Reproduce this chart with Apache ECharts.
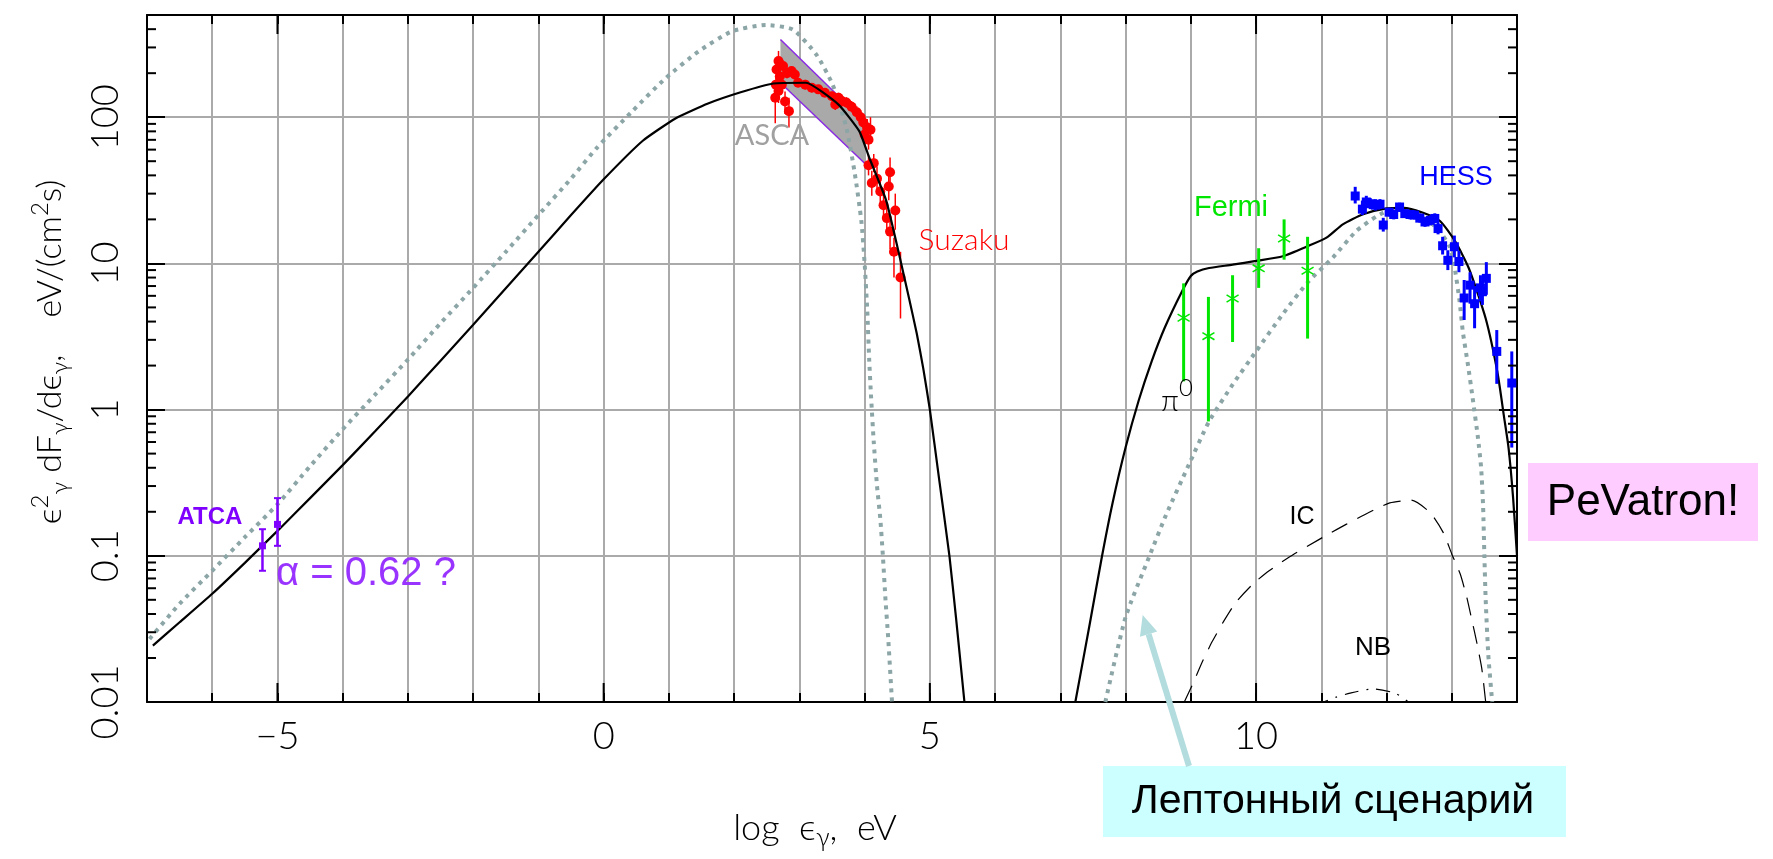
<!DOCTYPE html>
<html>
<head>
<meta charset="utf-8">
<script src="https://cdn.jsdelivr.net/npm/echarts@6/dist/echarts.min.js"></script>
<style>html,body{margin:0;padding:0;background:#fff}#c{width:1773px;height:859px}</style>
</head>
<body>
<div id="c"></div>
<script>
// ---------- axis ranges and tick labels ----------
const X_MIN = -7, X_MAX = 14, Y_MIN = 0.01, Y_MAX = 500;
const xTickLabels = [-5, 0, 5, 10];
const yTickLabels = [0.01, 0.1, 1, 10, 100];
const yMinorTicks = [0.02,0.03,0.04,0.05,0.06,0.07,0.08,0.09,0.2,0.3,0.4,0.5,0.6,0.7,0.8,0.9,
                     2,3,4,5,6,7,8,9,20,30,40,50,60,70,80,90,200,300,400];

// ---------- hadronic model (black solid) ----------
const hadronLowX = [-6.91,-6.5,-6,-5.5,-5,-4.5,-4,-3.5,-3,-2.5,-2,-1.5,-1,-0.5,0,0.6,1.1,1.6,2.1,2.6,3.1,3.6,3.92,4.07,4.33,4.52,4.68,4.8,4.9,5.0,5.14,5.3,5.4,5.53];
const hadronLowY = [0.0243,0.0351,0.055,0.0895,0.148,0.248,0.417,0.713,1.23,2.16,3.8,6.76,12.0,21.4,37.6,69,98,124,148,170,172,122,80,53,27,12,5.8,3.3,1.9,1.0,0.34,0.1,0.038,0.01];
const hadronHighX = [7.23,7.45,7.64,7.8,8.0,8.2,8.4,8.6,8.87,9.0,9.1,9.28,9.64,10.0,10.41,10.79,11.08,11.33,11.64,12.0,12.26,12.56,12.82,13.05,13.26,13.52,13.7,13.8,13.87,13.94,14.0];
const hadronHighY = [0.01,0.034,0.1,0.229,0.55,1.15,2.14,3.63,6.5,8.2,8.8,9.3,9.8,10.4,11.2,13.1,15,18.5,21.7,23.8,24,22.2,19.5,14.2,9.3,4.2,1.8,0.9,0.55,0.25,0.1];

// ---------- leptonic model (grey dotted) ----------
const leptonLowX = [-6.96,-6.5,-6,-5.5,-5,-4.5,-4,-3.5,-3,-2.5,-2,-1.5,-1,-0.5,-0.1,0.44,0.95,1.46,1.97,2.49,2.9,3.26,3.51,3.72,3.85,3.95,4.0,4.04,4.07,4.1,4.14,4.19,4.24,4.28,4.32,4.36,4.42];
const leptonLowY = [0.027,0.047,0.079,0.134,0.225,0.41,0.734,1.27,2.2,3.9,6.8,12,21.4,38,62,110,185,283,387,427,397,268,167,85,41,19.5,10,4.8,2.2,1.2,0.6,0.3,0.18,0.1,0.05,0.028,0.01];
const leptonHighX = [7.69,8.0,8.36,8.62,8.97,9.28,9.64,10.0,10.41,10.79,11.18,11.54,11.85,12.1,12.46,12.77,12.97,13.05,13.12,13.17,13.25,13.32,13.4,13.45,13.48,13.5,13.52,13.56,13.62];
const leptonHighY = [0.01,0.038,0.098,0.19,0.42,0.83,1.48,2.5,4.5,7.4,11,16.7,21,23.5,21.7,17.5,13,9,5.5,3.4,2.0,1.2,0.65,0.4,0.22,0.1,0.05,0.021,0.01];

// ---------- IC (dashed) and NB (dash-dot) ----------
const icX = [8.9,9.03,9.18,9.33,9.51,9.69,9.95,10.2,10.51,10.8,11.1,11.38,11.72,12.05,12.38,12.67,12.87,13.0,13.13,13.23,13.31,13.38,13.46,13.52];
const icY = [0.01,0.0133,0.019,0.026,0.036,0.048,0.064,0.079,0.098,0.117,0.14,0.164,0.197,0.23,0.24,0.197,0.144,0.103,0.075,0.052,0.036,0.026,0.017,0.01];
const nbX = [10.9,11.23,11.44,11.8,12.15,12.4];
const nbY = [0.0095,0.0108,0.0115,0.0123,0.0114,0.0095];

// ---------- ASCA band ----------
const ascaX = [2.71, 3.97, 4.02, 2.71];
const ascaY = [340, 96, 47.5, 172];

// ---------- Suzaku ----------
const suzakuX  = [2.68,2.65,2.75,2.70,2.81,2.88,2.93,2.64,2.73,2.63,2.84,2.78,2.68,2.98,3.09,3.19,3.29,3.39,3.50,3.60,3.55,3.65,3.72,3.80,3.88,3.94,3.98,4.04,4.09,4.00,4.06,4.06,4.14,4.11,4.19,4.24,4.39,4.37,4.29,4.34,4.47,4.39,4.45,4.55];
const suzakuY  = [242,212,224,190,200,207,196,167,167,136,110,128,151,172,167,159,155,147,139,136,122,129,126,118,108,100,92,85,82,76,70,47,48.5,35.5,38,31,42,33.6,25,20.4,23,16.5,12,8.0];
const suzakuLo = [207,190,205,170,185,192,182,150,152,91,85,105,125,160,155,148,145,138,130,125,112,118,116,108,98,90,80,75,70,66,60,40,42,29,32,25,33.6,27,20,16,17,12.5,8,4.2];
const suzakuHi = [284,240,245,210,218,222,210,186,183,167,136,150,175,185,180,170,166,157,149,147,132,140,137,129,119,111,105,97,100,88,80,55,56,43,46,38,53,42,31,26,30,21,15,12];

// ---------- Fermi ----------
const fermiX  = [8.89, 9.27, 9.64, 10.04, 10.43, 10.79];
const fermiY  = [4.25, 3.18, 5.75, 9.25, 14.8, 8.9];
const fermiLo = [1.56, 0.83, 2.9, 6.8, 10.6, 3.06];
const fermiHi = [7.3, 5.9, 8.3, 12.7, 20, 15.2];

// ---------- HESS ----------
const hessX  = [11.52,11.63,11.69,11.75,11.83,11.9,11.95,12.04,12.11,12.2,12.28,12.36,12.43,12.51,12.59,12.67,12.74,12.79,12.86,12.94,13.04,13.11,13.19,13.28,13.35,13.44,13.47,13.53,13.69,13.92];
const hessY  = [28.9,23.5,26.3,25.6,25,25.4,18.3,22.4,21.6,24.3,21.9,21.6,21.4,20.4,19.2,19.7,20.3,17.3,13.2,10.5,13,10.3,5.8,7.1,5.3,6.8,6.4,7.9,2.5,1.52];
const hessLo = [25.7,21.4,24,23.5,23,23.5,16.5,21,20,22.5,20.5,20,20,19,17.8,18.2,18.8,15.8,11.5,9,11,8.7,4.1,5.3,3.6,5.5,5.2,6.1,1.5,0.55];
const hessHi = [33.4,26.9,29,28,27.5,27.5,20.5,24,23.3,26,23.5,23,23,22,20.7,21.3,22,19,15.2,12.3,15.5,12.2,7.7,8.7,7.0,8.3,7.6,10.2,3.5,2.5];

// ---------- ATCA ----------
const atcaX  = [-5.23, -5.0];
const atcaY  = [0.117, 0.164];
const atcaLo = [0.079, 0.117];
const atcaHi = [0.152, 0.248];

// =====================================================
const pairs = (xs, ys) => xs.map((x, i) => [x, ys[i]]);
const rows = (xs, ys, lo, hi) => xs.map((x, i) => [x, ys[i], lo[i], hi[i]]);

const HERSHEY = 'Lato, "DejaVu Sans", sans-serif';
const ARIAL = '"Liberation Sans", Arial, sans-serif';

function lineSeries(name, xs, ys, style, z, smooth) {
  return { name, type: 'line', data: pairs(xs, ys), showSymbol: false, symbol: 'none',
           smooth: smooth || false, lineStyle: style, z, silent: true, clip: true };
}
const blackStyle = { color: '#000', width: 2.2 };
const dotStyle = { color: '#8ca5a6', width: 4, type: [4, 5.2], cap: 'butt' };

function errRender(kind, color) {
  return function (params, api) {
    const x = api.value(0);
    const c = api.coord([x, api.value(1)]);
    const a = api.coord([x, api.value(2)]);
    const b = api.coord([x, api.value(3)]);
    const ch = [];
    const bw = kind === 'suzaku' ? 1.5 : (kind === 'atca' ? 2.5 : 3);
    ch.push({ type: 'line', shape: { x1: a[0], y1: a[1], x2: b[0], y2: b[1] }, style: { stroke: color, lineWidth: bw } });
    if (kind === 'suzaku') {
      ch.push({ type: 'circle', shape: { cx: c[0], cy: c[1], r: 5 }, style: { fill: color } });
    } else if (kind === 'hess') {
      ch.push({ type: 'rect', shape: { x: c[0] - 4.5, y: c[1] - 4.5, width: 9, height: 9 }, style: { fill: color } });
    } else if (kind === 'fermi') {
      const s = 6;
      ch.push({ type: 'line', shape: { x1: c[0] - s, y1: c[1] - s * 0.6, x2: c[0] + s, y2: c[1] + s * 0.6 }, style: { stroke: color, lineWidth: 1.5 } });
      ch.push({ type: 'line', shape: { x1: c[0] - s, y1: c[1] + s * 0.6, x2: c[0] + s, y2: c[1] - s * 0.6 }, style: { stroke: color, lineWidth: 1.5 } });
    } else if (kind === 'atca') {
      ch.push({ type: 'line', shape: { x1: a[0] - 3.5, y1: a[1], x2: a[0] + 3.5, y2: a[1] }, style: { stroke: color, lineWidth: 2 } });
      ch.push({ type: 'line', shape: { x1: b[0] - 3.5, y1: b[1], x2: b[0] + 3.5, y2: b[1] }, style: { stroke: color, lineWidth: 2 } });
      ch.push({ type: 'rect', shape: { x: c[0] - 3.5, y: c[1] - 3.5, width: 7, height: 7 }, style: { fill: color } });
    }
    return { type: 'group', children: ch };
  };
}

function ascaRender(params, api) {
  const pts = ascaX.map((x, i) => api.coord([x, ascaY[i]]));
  return { type: 'group', children: [
    { type: 'polygon', shape: { points: pts }, style: { fill: '#a9a9a9' } },
    { type: 'polyline', shape: { points: [pts[0], pts[1]] }, style: { stroke: '#8a2be2', lineWidth: 1.5, fill: null } },
    { type: 'polyline', shape: { points: [pts[3], pts[2]] }, style: { stroke: '#8a2be2', lineWidth: 1.5, fill: null } }
  ] };
}

function yMinorRender(params, api) {
  const v = api.value(1);
  const l = api.coord([X_MIN, v]), r = api.coord([X_MAX, v]);
  return { type: 'group', children: [
    { type: 'line', shape: { x1: l[0], y1: l[1], x2: l[0] + 9, y2: l[1] }, style: { stroke: '#000', lineWidth: 2 } },
    { type: 'line', shape: { x1: r[0], y1: r[1], x2: r[0] - 9, y2: r[1] }, style: { stroke: '#000', lineWidth: 2 } }
  ] };
}
function xMajorRender(params, api) {
  const v = api.value(0);
  const b = api.coord([v, Y_MIN]), t = api.coord([v, Y_MAX]);
  return { type: 'group', children: [
    { type: 'line', shape: { x1: b[0], y1: b[1], x2: b[0], y2: b[1] - 19 }, style: { stroke: '#000', lineWidth: 2 } },
    { type: 'line', shape: { x1: t[0], y1: t[1], x2: t[0], y2: t[1] + 19 }, style: { stroke: '#000', lineWidth: 2 } }
  ] };
}

function txt(x, y, text, size, color, family, weight, extra) {
  return Object.assign({ type: 'text', x, y, z: 100,
    style: { text, fontSize: size, fontFamily: family, fontWeight: weight || 'normal', fill: color,
             align: 'center', verticalAlign: 'middle', textAlign: 'center', textVerticalAlign: 'middle' } }, extra || {});
}

const axisLineStyle = { color: '#000', width: 2 };
const gridLineStyle = { color: '#aaaaaa', width: 2 };
const tickLabelStyle = { fontSize: 38, fontFamily: HERSHEY, fontWeight: 300, color: '#000' };

const option = {
  animation: false,
  backgroundColor: '#ffffff',
  grid: { left: 147, right: 256, top: 15, bottom: 157, containLabel: false },
  xAxis: [
    { type: 'value', min: X_MIN, max: X_MAX, interval: 1, position: 'bottom',
      axisLine: { show: true, onZero: false, lineStyle: axisLineStyle },
      axisTick: { show: true, inside: true, length: 9, lineStyle: axisLineStyle },
      axisLabel: Object.assign({ show: true, margin: 16,
        formatter: v => { const r = Math.round(v); return xTickLabels.includes(r) ? (r < 0 ? '\u2212' + (-r) : String(r)) : ''; } }, tickLabelStyle),
      splitLine: { show: true, lineStyle: gridLineStyle } },
    { type: 'value', min: X_MIN, max: X_MAX, interval: 1, position: 'top',
      axisLine: { show: true, onZero: false, lineStyle: axisLineStyle },
      axisTick: { show: true, inside: true, length: 9, lineStyle: axisLineStyle },
      axisLabel: { show: false }, splitLine: { show: false } }
  ],
  yAxis: [
    { type: 'log', logBase: 10, min: Y_MIN, max: Y_MAX, position: 'left',
      axisLine: { show: true, onZero: false, lineStyle: axisLineStyle },
      axisTick: { show: true, inside: true, length: 18, lineStyle: axisLineStyle },
      axisLabel: Object.assign({ show: true, rotate: 90, margin: 22,
        formatter: v => { const t = yTickLabels.find(t => Math.abs(t - v) / t < 1e-6); return t === undefined ? '' : String(t); } }, tickLabelStyle),
      splitLine: { show: true, lineStyle: gridLineStyle } },
    { type: 'log', logBase: 10, min: Y_MIN, max: Y_MAX, position: 'right',
      axisLine: { show: true, onZero: false, lineStyle: axisLineStyle },
      axisTick: { show: true, inside: true, length: 18, lineStyle: axisLineStyle },
      axisLabel: { show: false }, splitLine: { show: false } }
  ],
  series: [
    { name: 'ASCA', type: 'custom', renderItem: ascaRender, data: [[ascaX[0], ascaY[0]]], z: 2, silent: true },
    lineSeries('Leptonic low', leptonLowX, leptonLowY, dotStyle, 3, 0.2),
    lineSeries('Leptonic high', leptonHighX, leptonHighY, dotStyle, 3, 0.2),
    lineSeries('IC', icX, icY, { color: '#000', width: 1.2, type: [18, 11] }, 3, 0.2),
    lineSeries('NB', nbX, nbY, { color: '#000', width: 1.2, type: [14, 8, 2, 8] }, 3, 0.2),
    { name: 'Suzaku', type: 'custom', renderItem: errRender('suzaku', '#ff0000'), data: rows(suzakuX, suzakuY, suzakuLo, suzakuHi), z: 4, silent: true },
    lineSeries('Hadronic low', hadronLowX, hadronLowY, blackStyle, 5, 0.15),
    lineSeries('Hadronic high', hadronHighX, hadronHighY, blackStyle, 5, 0.2),
    { name: 'Fermi', type: 'custom', renderItem: errRender('fermi', '#00e600'), data: rows(fermiX, fermiY, fermiLo, fermiHi), z: 6, silent: true },
    { name: 'HESS', type: 'custom', renderItem: errRender('hess', '#0000ff'), data: rows(hessX, hessY, hessLo, hessHi), z: 6, silent: true },
    { name: 'ATCA', type: 'custom', renderItem: errRender('atca', '#8000ff'), data: rows(atcaX, atcaY, atcaLo, atcaHi), z: 6, silent: true },
    { name: 'yMinor', type: 'custom', renderItem: yMinorRender, data: yMinorTicks.map(v => [X_MIN, v]), z: 10, silent: true },
    { name: 'xMajor', type: 'custom', renderItem: xMajorRender, data: xTickLabels.map(v => [v, Y_MIN]), z: 10, silent: true }
  ],
  graphic: [
    // axis titles
    { type: 'text', x: 50, y: 352, rotation: Math.PI / 2, z: 100,
      style: { text: '{n|\u03F5}{sup|2}{sub|\u03B3}{n| dF}{sub|\u03B3}{n|/d\u03F5}{sub|\u03B3}{n|,    eV/(cm}{sup|2}{n|s)}',
               align: 'center', verticalAlign: 'middle', textAlign: 'center', textVerticalAlign: 'middle',
               rich: {
                 n: { fontSize: 34, fontFamily: HERSHEY, fontWeight: 300, fill: '#000', lineHeight: 44, verticalAlign: 'middle' },
                 sup: { fontSize: 24, fontFamily: HERSHEY, fontWeight: 300, fill: '#000', lineHeight: 44, verticalAlign: 'top' },
                 sub: { fontSize: 24, fontFamily: HERSHEY, fontWeight: 300, fill: '#000', lineHeight: 44, verticalAlign: 'bottom' }
               } } },
    { type: 'text', x: 815, y: 828, z: 100,
      style: { text: '{n|log  \u03F5}{sub|\u03B3}{n|,  eV}',
               align: 'center', verticalAlign: 'middle', textAlign: 'center', textVerticalAlign: 'middle',
               rich: {
                 n: { fontSize: 36, fontFamily: HERSHEY, fontWeight: 300, fill: '#000', lineHeight: 46, verticalAlign: 'middle' },
                 sub: { fontSize: 26, fontFamily: HERSHEY, fontWeight: 300, fill: '#000', lineHeight: 46, verticalAlign: 'bottom' }
               } } },
    // data labels
    txt(772, 136, 'ASCA', 29, '#a0a0a0', HERSHEY, 400),
    txt(964, 240, 'Suzaku', 30, '#ff0000', HERSHEY, 300),
    txt(1231, 208, 'Fermi', 29, '#00e600', ARIAL, 'normal'),
    txt(1456, 178, 'HESS', 27, '#0000ff', ARIAL, 'normal'),
    txt(210, 517, 'ATCA', 24, '#8000ff', ARIAL, 'bold'),
    txt(366, 574, '\u03B1 = 0.62 ?', 40, '#9933ff', ARIAL, 'normal'),
    { type: 'text', x: 1177, y: 396, z: 100,
      style: { text: '{n|\u03C0}{sup|0}', align: 'center', verticalAlign: 'middle', textAlign: 'center', textVerticalAlign: 'middle',
               rich: { n: { fontSize: 30, fontFamily: HERSHEY, fontWeight: 300, fill: '#000', lineHeight: 40, verticalAlign: 'bottom' },
                       sup: { fontSize: 24, fontFamily: HERSHEY, fontWeight: 300, fill: '#000', lineHeight: 40, verticalAlign: 'top' } } } },
    txt(1302, 517, 'IC', 25, '#000', ARIAL, 'normal'),
    txt(1373, 648, 'NB', 26, '#000', ARIAL, 'normal'),
    // annotation boxes
    { type: 'rect', shape: { x: 1528, y: 463, width: 230, height: 78 }, style: { fill: '#ffccff' }, z: 90 },
    txt(1643, 503, 'PeVatron!', 44, '#000', ARIAL, 'normal'),
    { type: 'rect', shape: { x: 1103, y: 766, width: 463, height: 71 }, style: { fill: '#ccffff' }, z: 90 },
    txt(1333, 802, '\u041B\u0435\u043F\u0442\u043E\u043D\u043D\u044B\u0439 \u0441\u0446\u0435\u043D\u0430\u0440\u0438\u0439', 41, '#000', ARIAL, 'normal'),
    // arrow
    { type: 'line', shape: { x1: 1189, y1: 766, x2: 1148.6, y2: 634.1 }, style: { stroke: '#b2dcde', lineWidth: 6 }, z: 95 },
    { type: 'polygon', shape: { points: [[1142.7, 615], [1157.2, 631.5], [1140.0, 636.8]] }, style: { fill: '#b2dcde' }, z: 95 }
  ]
};

const chart = echarts.init(document.getElementById('c'), null, { renderer: 'canvas' });
chart.setOption(option);
</script>
</body>
</html>
